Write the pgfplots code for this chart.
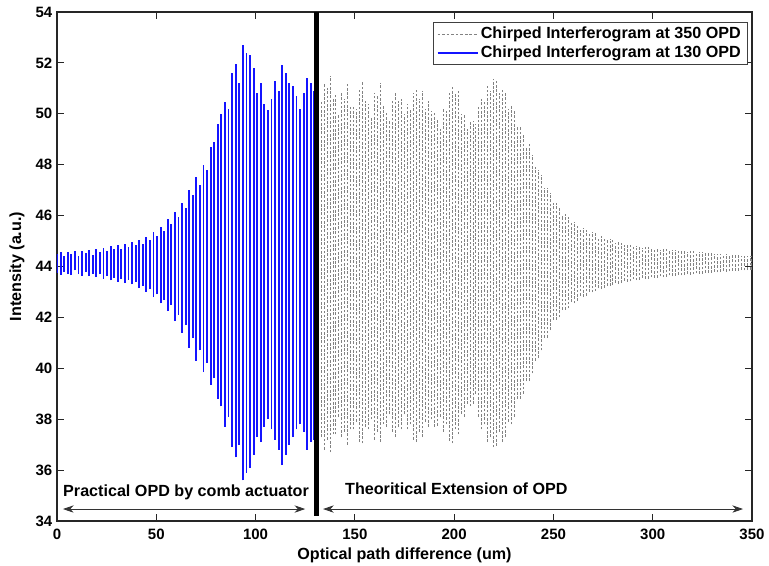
\documentclass[border=0pt]{standalone}
\usepackage{fontspec}
\setmainfont{Liberation Sans}
\usepackage{pgfplots}
\usepackage{pgfplotstable}
\pgfplotsset{compat=1.18}
\usetikzlibrary{arrows.meta}

% blue: range of the 130 OPD interferogram in each column (x, low, high)
\pgfplotstableread{
x lo hi
0 43.75 44.50
1.8 43.68 44.55
3.6 43.80 44.40
5.4 43.70 44.58
7.2 43.66 44.48
9 43.85 44.60
10.8 43.70 44.42
12.6 43.64 44.62
14.4 43.78 44.52
16.2 43.62 44.66
18 43.72 44.45
19.8 43.58 44.70
21.6 43.70 44.55
23.4 43.52 44.74
25.2 43.62 44.60
27 43.45 44.82
28.8 43.55 44.70
30.6 43.40 44.86
32.4 43.52 44.68
34.2 43.35 44.90
36 43.48 44.75
37.8 43.30 44.95
39.6 43.40 44.85
41.4 43.15 45.05
43.2 43.25 44.90
45 43.00 45.15
46.8 43.10 45.05
48.6 42.80 45.35
50.4 42.90 45.20
52.2 42.55 45.55
54 42.70 45.40
55.8 42.25 45.85
57.6 42.50 45.65
59.4 41.85 46.15
61.2 42.10 45.95
63 41.40 46.50
64.8 41.70 46.30
66.6 40.80 47.00
68.4 41.20 46.80
70.2 40.30 47.50
72 40.70 47.20
73.8 39.85 48.00
75.6 40.20 47.80
77.4 39.35 48.70
79.2 39.60 48.90
81 38.80 49.60
82.8 38.50 50.00
84.6 37.70 50.45
86.4 38.10 50.20
88.2 36.90 51.60
90 36.50 51.95
91.8 37.00 51.20
93.6 35.60 52.70
95.4 35.90 52.40
97.2 36.10 52.30
99 36.60 51.80
100.8 37.30 50.80
102.6 37.10 51.20
104.4 37.70 50.40
106.2 38.00 50.15
108 37.60 50.60
109.8 37.20 51.30
111.6 36.80 50.90
113.4 36.20 51.90
115.2 36.60 51.60
117 37.00 51.20
118.8 37.30 51.10
120.6 37.60 50.70
122.4 37.80 50.20
124.2 37.50 50.80
126 36.80 51.40
127.8 37.10 51.20
129.6 37.20 50.90
}\bluedata

% gray: range of the 350 OPD interferogram in each column (x, low, high)
\pgfplotstableread{
x lo hi
131.5 37.2 50.6
133 37.3 50.5
134.5 36.8 51.2
136 37.2 51.0
137.5 36.7 51.5
139 37.4 50.6
140.5 37.4 50.8
142 38.1 50.0
143.5 37.3 50.8
145 37.5 50.6
146.5 37.0 51.25
148 37.6 50.3
149.5 37.6 50.3
151 37.9 50.2
152.5 37.1 51.0
154 37.05 51.25
155.5 37.7 50.5
157 37.6 50.4
158.5 38.0 49.9
160 37.2 50.8
161.5 37.5 50.7
163 37.1 51.2
164.5 37.8 50.3
166 37.7 50.1
167.5 38.2 49.7
169 37.5 50.5
170.5 37.3 50.85
172 37.7 50.5
173.5 37.6 50.6
175 38.2 50.0
176.5 37.6 50.4
178 37.8 50.2
179.5 37.2 50.8
181 37.1 51.0
182.5 37.5 50.6
184 37.3 50.9
185.5 37.9 50.2
187 37.7 50.5
188.5 38.0 50.1
190 37.7 50.1
191.5 37.75 49.8
193 38.1 49.4
194.5 37.5 50.2
196 37.8 50.1
197.5 37.15 50.8
199 37.05 51.05
200.5 37.6 50.8
202 37.4 50.9
203.5 38.2 50.0
205 38.1 50.0
206.5 38.6 49.4
208 38.5 49.7
209.5 38.6 49.7
211 39.0 49.6
212.5 38.1 50.3
214 37.6 50.6
215.5 37.8 50.5
217 37.1 51.1
218.5 37.3 50.9
220 36.9 51.35
221.5 36.95 51.3
223 37.5 50.8
224.5 37.1 51.0
226 37.3 50.8
227.5 37.9 50.2
229 37.8 50.3
230.5 38.1 50.1
232 38.8 49.5
233.5 38.8 49.5
235 39.0 49.2
236.5 39.5 48.7
238 39.5 48.8
239.5 39.8 48.4
241 40.3 47.9
242.5 40.4 47.8
244 40.7 47.6
245.5 41.2 47.1
247 41.2 47.1
248.5 41.5 46.9
250 41.9 46.5
251.5 41.9 46.5
253 42.0 46.3
254.5 42.3 46.0
256 42.3 46.05
257.5 42.35 45.95
259 42.6 45.7
260.5 42.55 45.75
262 42.65 45.65
263.5 42.85 45.45
265 42.8 45.5
266.5 42.85 45.45
268 43.0 45.3
269.5 42.98 45.35
271 43.03 45.3
272.5 43.15 45.15
274 43.12 45.2
275.5 43.15 45.15
277 43.25 45.05
278.5 43.23 45.08
280 43.27 45.05
281.5 43.36 44.93
283 43.33 44.97
284.5 43.35 44.94
286 43.44 44.85
287.5 43.4 44.88
289 43.42 44.86
290.5 43.5 44.78
292 43.46 44.82
293.5 43.48 44.8
295 43.55 44.73
296.5 43.51 44.76
298 43.52 44.75
299.5 43.58 44.69
301 43.55 44.72
302.5 43.56 44.71
304 43.61 44.66
305.5 43.58 44.69
307 43.6 44.68
308.5 43.65 44.63
310 43.62 44.66
311.5 43.63 44.65
313 43.68 44.6
314.5 43.65 44.63
316 43.66 44.62
317.5 43.7 44.58
319 43.68 44.6
320.5 43.69 44.59
322 43.73 44.55
323.5 43.71 44.57
325 43.72 44.56
326.5 43.76 44.52
328 43.74 44.54
329.5 43.75 44.53
331 43.79 44.49
332.5 43.77 44.51
334 43.78 44.5
335.5 43.82 44.46
337 43.8 44.48
338.5 43.81 44.47
340 43.84 44.44
341.5 43.83 44.45
343 43.84 44.45
344.5 43.87 44.42
346 43.85 44.43
347.5 43.86 44.43
349 43.88 44.41
350 43.86 44.42
}\graydata

\definecolor{mygray}{RGB}{130,130,130}
\definecolor{myblue}{RGB}{20,20,255}
\newcommand{\lblfont}{\fontsize{11.25}{13}\selectfont\bfseries}
\newcommand{\txtfont}{\fontsize{12.1}{14}\selectfont\bfseries}

\begin{document}
\begin{tikzpicture}
\begin{axis}[
  scale only axis,
  width=521.25pt, height=381.75pt,
  xmin=0, xmax=350, ymin=34, ymax=54,
  xtick={0,50,...,350}, ytick={34,36,...,54},
  tick align=inside,
  major tick length=5pt,
  axis line style={black!85, line width=0.8pt},
  tick style={black!85, line width=0.6pt},
  ticklabel style={font=\lblfont},
  xticklabel style={yshift=-2.5pt},
  /pgf/number format/assume math mode=true,
  xlabel={Optical path difference (um)},
  ylabel={Intensity (a.u.)},
  xlabel style={font=\txtfont, at={(axis description cs:0.5,-0.0668)}, anchor=center},
  ylabel style={font=\txtfont, at={(axis description cs:-0.0576,0.5)}, anchor=center},
  legend style={at={(rel axis cs:0.994,0.980)}, anchor=north east,
    draw=black!75, line width=0.5pt, fill=white, font=\txtfont,
    inner xsep=3pt, inner ysep=1.5pt, row sep=0pt},
  legend cell align=left,
]
% columns drawn as vertical strokes from the low to the high value
\addplot[draw=none, mark=none, forget plot,
  error bars/.cd, y dir=plus, y explicit, error mark=none,
  error bar style={draw=mygray, line width=0.75pt, dash pattern=on 2pt off 1.2pt}]
  table[x=x, y=lo, y error plus expr=\thisrow{hi}-\thisrow{lo}] {\graydata};
\addplot[draw=none, mark=none, forget plot,
  error bars/.cd, y dir=plus, y explicit, error mark=none,
  error bar style={draw=myblue, line width=1.4pt, solid}]
  table[x=x, y=lo, y error plus expr=\thisrow{hi}-\thisrow{lo}] {\bluedata};

\addlegendimage{legend image code/.code={\draw[mygray, line width=0.7pt, dash pattern=on 2pt off 1.4pt] (0cm,0cm) -- (1.05cm,0cm);}}
\addlegendentry{Chirped Interferogram at 350 OPD}
\addlegendimage{legend image code/.code={\draw[myblue, line width=1pt] (0cm,0cm) -- (1.05cm,0cm);}}
\addlegendentry{Chirped Interferogram at 130 OPD}

\addplot[black, line width=3.6pt, forget plot] coordinates {(130.5,34.2) (130.5,54)};

\draw[black!80, line width=0.6pt, {Stealth[length=8pt,width=5.5pt,inset=2.5pt]}-{Stealth[length=8pt,width=5.5pt,inset=2.5pt]}]
  (axis cs:3,34.47) -- (axis cs:125,34.47);
\draw[black!80, line width=0.6pt, {Stealth[length=8pt,width=5.5pt,inset=2.5pt]}-{Stealth[length=8pt,width=5.5pt,inset=2.5pt]}]
  (axis cs:134,34.47) -- (axis cs:345.5,34.47);
\node[anchor=west, font=\txtfont, inner sep=0pt] at (axis cs:3,35.14) {Practical OPD by comb actuator};
\node[anchor=west, font=\txtfont, inner sep=0pt] at (axis cs:145,35.25) {Theoritical Extension of OPD};
\end{axis}
\pgfresetboundingbox
\path[use as bounding box] (-42.75pt,-33.75pt) rectangle (534pt,390.75pt);
\end{tikzpicture}
\end{document}
